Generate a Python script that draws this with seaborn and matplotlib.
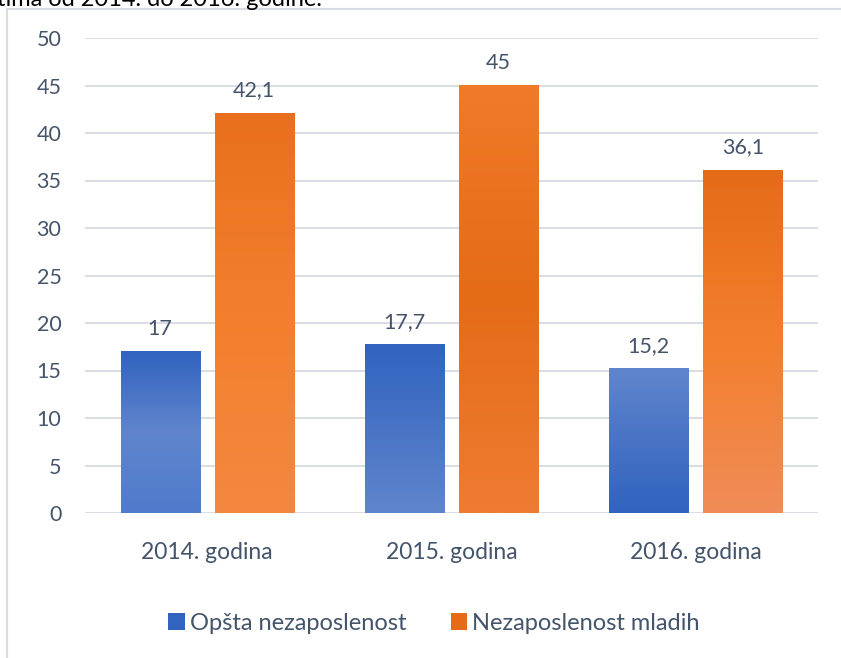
import numpy as np
import pandas as pd
import matplotlib
matplotlib.use("Agg")
import matplotlib.pyplot as plt
import seaborn as sns
from matplotlib.colors import LinearSegmentedColormap
from matplotlib.patches import Patch, Rectangle

# ---- data ----
years = ["2014. godina", "2015. godina", "2016. godina"]
series = ["Opšta nezaposlenost", "Nezaposlenost mladih"]
opsta = [17, 17.7, 15.2]
mladi = [42.1, 45, 36.1]
yticks = [0, 5, 10, 15, 20, 25, 30, 35, 40, 45, 50]
top_text = "tima od 2014. do 2016. godine."

df = pd.DataFrame({
    "godina": years * 2,
    "serija": [series[0]] * 3 + [series[1]] * 3,
    "vrijednost": opsta + mladi,
})

# ---- styling ----
sns.set_theme(style="white")
plt.rcParams["font.family"] = ["Lato", "DejaVu Sans"]
TXT = "#44546a"
GRID = "#d9dde3"
BLUE_D, BLUE_L = "#3163bf", "#6085cc"
OR_D, OR_M, OR_L = "#e56b17", "#f37f2c", "#f18c58"
palette = {series[0]: BLUE_D, series[1]: OR_D}

# gradient stops per bar (top -> bottom)
grad = {
    (0, 0): [BLUE_D, BLUE_L, "#4f7bcd"],
    (0, 1): [BLUE_D, BLUE_L],
    (0, 2): [BLUE_L, BLUE_D],
    (1, 0): ["#e8701c", OR_M, "#f48840"],
    (1, 1): ["#f07a28", OR_D, "#ef7c32"],
    (1, 2): [OR_D, OR_M, OR_L],
}

fig = plt.figure(figsize=(8.41, 6.58), dpi=100)
ax = fig.add_axes([85 / 841, 1 - 513 / 658, (818 - 85) / 841, (513 - 38) / 658])

sns.barplot(data=df, x="godina", y="vrijednost", hue="serija", order=years,
            hue_order=series, palette=palette, width=0.77, gap=0.16,
            legend=False, ax=ax, saturation=1)

for i, cont in enumerate(ax.containers):
    for j, bar in enumerate(cont):
        x, y = bar.get_x(), bar.get_y()
        w, h = bar.get_width(), bar.get_height()
        cmap = LinearSegmentedColormap.from_list(f"g{i}{j}", grad[(i, j)])
        img = cmap(np.linspace(0, 1, 256))[:, None, :3]
        bar.set_facecolor("none")
        bar.set_edgecolor("none")
        ax.imshow(img, extent=[x, x + w, y, y + h], aspect="auto",
                  origin="upper", zorder=2, interpolation="bilinear")
    labels = [f"{v:g}".replace(".", ",") for v in cont.datavalues]
    ax.bar_label(cont, labels=labels, padding=9, fontsize=15.5, color=TXT)

ax.set_xlim(-0.5, 2.5)
ax.set_ylim(0, 50)
ax.set_yticks(yticks)
ax.set_yticklabels([str(t) for t in yticks])
ax.set_xlabel("")
ax.set_ylabel("")
ax.set_axisbelow(True)
ax.yaxis.grid(True, color=GRID, lw=1.4)
ax.xaxis.grid(False)
for s in ax.spines.values():
    s.set_visible(False)
ax.tick_params(axis="y", length=0, pad=17, labelsize=15.5, labelcolor=TXT)
ax.tick_params(axis="x", length=0, pad=21, labelsize=16.5, labelcolor=TXT)

handles = [Patch(facecolor=BLUE_D, edgecolor="none"),
           Patch(facecolor=OR_D, edgecolor="none")]
fig.legend(handles, series, loc="center", bbox_to_anchor=(434 / 841, 1 - 623 / 658),
           ncol=2, frameon=False, fontsize=17, labelcolor=TXT,
           handlelength=0.7, handleheight=0.7, handletextpad=0.2,
           columnspacing=1.9)

# chart frame (cut by image edges)
fig.patches.append(Rectangle((7 / 841, -0.05), 1.2, 1 - 9 / 658 + 0.05,
                             transform=fig.transFigure, fill=False,
                             edgecolor=GRID, lw=1.5, zorder=0))
fig.text(-0.003, 1 - 6 / 658, top_text, ha="left", va="baseline",
         fontsize=17, color="black")

fig.savefig("out.png", dpi=100)
